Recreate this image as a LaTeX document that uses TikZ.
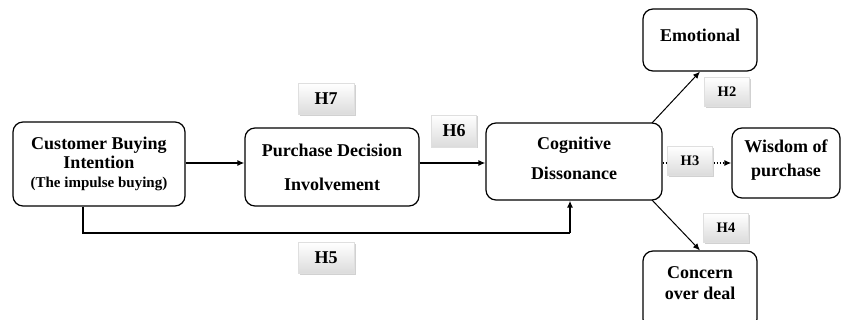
\documentclass[tikz,border=0pt]{standalone}
\usepackage{fontspec}
\setmainfont{Liberation Serif}
\usetikzlibrary{arrows.meta,shadows}
\begin{document}
\begin{tikzpicture}[x=1pt,y=-1pt,
  box/.style={draw, line width=1.2pt, rounded corners=10pt, inner sep=0pt},
  txt/.style={align=center, inner sep=0pt, font=\bfseries\fontsize{18}{19}\selectfont},
  hlab/.style={shading=axis, top color=white, bottom color=gray!28, draw=gray!25, line width=0.4pt,
     drop shadow={shadow xshift=1.5pt, shadow yshift=-1.5pt, fill=gray!45, opacity=0.8},
     minimum width=56pt, minimum height=31pt, inner sep=0pt, font=\bfseries\fontsize{18}{20}\selectfont},
  shlab/.style={hlab, minimum width=45pt, minimum height=29pt, font=\bfseries\fontsize{14.5}{16}\selectfont},
  arr/.style={-{Latex[length=7pt,width=6pt]}, line width=1.4pt},
  thin arr/.style={-{Latex[length=7pt,width=6pt]}, line width=1pt}
]
\useasboundingbox (0,0) rectangle (841,320);
\node[box, minimum width=172pt, minimum height=84pt] (cbi) at (99,164) {};
\node[txt] (cbit) at (99,163.5)
  {Customer Buying\\Intention\\{\fontsize{15}{19}\selectfont(The impulse buying)}};
\node[box, minimum width=174pt, minimum height=78pt] (pdi) at (332,167) {};
\node[txt, font=\bfseries\fontsize{18}{34}\selectfont] (pdit) at (332,167) {Purchase Decision\\Involvement};
\node[box, minimum width=176pt, minimum height=77pt] (cd) at (574,161.5) {};
\node[txt, font=\bfseries\fontsize{18}{30}\selectfont] (cdt) at (574,158) {Cognitive\\Dissonance};
\node[box, minimum width=114pt, minimum height=62pt] (emo) at (700,40) {};
\node[txt] (emot) at (700,35) {Emotional};
\node[box, minimum width=108pt, minimum height=70pt] (wis) at (786,163) {};
\node[txt, font=\bfseries\fontsize{18}{24}\selectfont] (wist) at (786,160) {Wisdom of\\purchase};
\node[box, minimum width=114pt, minimum height=78pt] (con) at (700,290) {};
\node[txt, font=\bfseries\fontsize{18}{20.5}\selectfont] (cont) at (700,283) {Concern\\over deal};

\coordinate (c1) at (83,233);
\coordinate (c2) at (570,233);
\draw[arr] (cbi.east |- 0,163) -- (pdi.west |- 0,163);
\draw[arr] (pdi.east |- 0,163) -- (cd.west |- 0,163);
\draw[line width=1.4pt] (cbi.south -| c1) -- (c1) -- (c2);
\draw[arr] (c2) -- (c2 |- cd.south);
\coordinate (e1) at (652,123);
\coordinate (e2) at (652,200);
\draw[thin arr] (e1) -- (emo.south);
\draw[thin arr] (e2) -- (con.north);
\draw[thin arr, dotted, line width=1.4pt] (cd.east |- 0,163) -- (wis.west |- 0,163);

\node[hlab] (h7) at (326,99) {H7};
\node[hlab] (h5) at (326,258) {H5};
\node[hlab, minimum width=45pt, minimum height=32pt] (h6) at (454,131) {H6};
\node[shlab] (h2) at (727,92) {H2};
\node[shlab] (h3) at (690,161) {H3};
\node[shlab] (h4) at (726,228) {H4};
\end{tikzpicture}
\end{document}
